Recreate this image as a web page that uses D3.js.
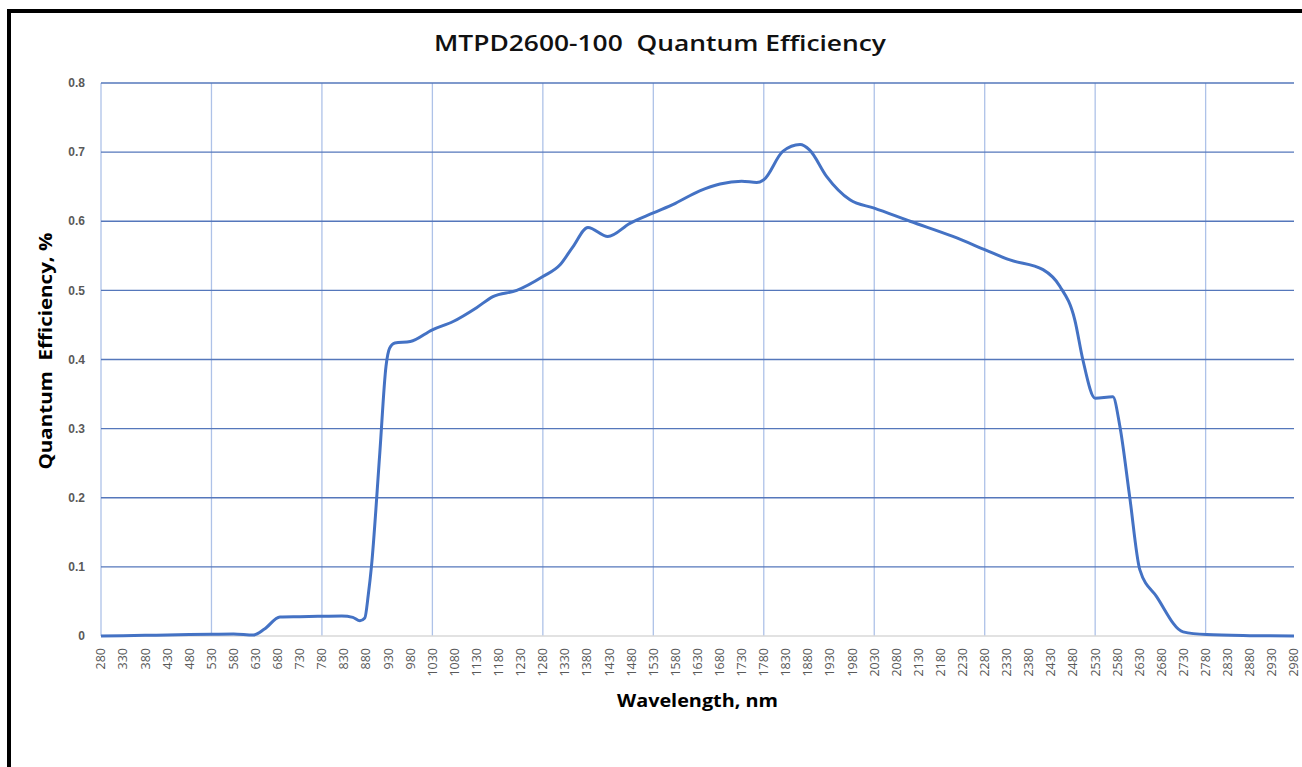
<!DOCTYPE html>
<html lang="en">

<head>
	<meta charset="utf-8">
	<title>MTPD2600-100 Quantum Efficiency</title>
	<style>
		body {
			margin: 0;
			background: #fff;
			font-family: "Open Sans", sans-serif;
		}

		svg {
			display: block;
		}

		.ylabels text {
			font-family: "Liberation Sans", Arial, sans-serif;
			font-weight: bold;
			font-size: 12px;
			fill: #595959;
		}

		.xlabels text {
			font-family: "Open Sans", sans-serif;
			font-size: 12.5px;
			fill: #595959;
		}
	</style>
</head>

<body>
	<svg></svg>

	<script src="https://cdn.jsdelivr.net/npm/d3@7/dist/d3.min.js"></script>
	<script>
		// wavelengths (nm) and quantum efficiency
		var wavelengths = [280, 330, 380, 430, 480, 530, 580, 625, 650, 685, 730, 780, 825, 850, 866, 877, 885, 892, 911, 925, 933, 945, 980,
			1030, 1077, 1130, 1167, 1221, 1280, 1319, 1348, 1382, 1427, 1477, 1530, 1580, 1635, 1681, 1730, 1764, 1780, 1823, 1862, 1884,
			1922, 1975, 2030, 2111, 2208, 2280, 2337, 2412, 2450, 2484, 2502, 2530, 2570, 2586, 2608, 2631, 2669, 2729, 2782, 2880, 2980];
		var efficiency = [0, 0.0005, 0.001, 0.0015, 0.002, 0.0025, 0.003, 0.0015, 0.01, 0.0275, 0.028, 0.0285, 0.029, 0.027, 0.022, 0.026, 0.06, 0.1, 0.265, 0.39, 0.416, 0.424, 0.426,
			0.443, 0.455, 0.475, 0.491, 0.5, 0.52, 0.537, 0.563, 0.591, 0.578, 0.597, 0.612, 0.626, 0.644, 0.654, 0.658, 0.656, 0.66, 0.701, 0.711, 0.703,
			0.665, 0.631, 0.619, 0.6, 0.578, 0.559, 0.544, 0.53, 0.506, 0.457, 0.4, 0.344, 0.346, 0.303, 0.202, 0.096, 0.057, 0.006, 0.002, 0.0005, 0];

		var xTicks = d3.range(280, 2981, 50);
		var xGrid = d3.range(280, 2981, 250);
		var yTicks = [0, 0.1, 0.2, 0.3, 0.4, 0.5, 0.6, 0.7, 0.8];

		var width = 1302,
			height = 767;

		var margin = { left: 101, right: 8, top: 83, bottom: 131 };

		var svg = d3.select("svg")
			.attr("width", width)
			.attr("height", height);

		// frame of the original screenshot (only top/left edges visible)
		svg.append("rect")
			.attr("x", 9)
			.attr("y", 11)
			.attr("width", width + 20)
			.attr("height", height + 20)
			.attr("fill", "none")
			.attr("stroke", "#000")
			.attr("stroke-width", 4);

		var x = d3.scaleLinear()
			.domain([280, 2980])
			.range([margin.left, width - margin.right]);

		var y = d3.scaleLinear()
			.domain([0, 0.8])
			.range([height - margin.bottom, margin.top]);

		// vertical gridlines
		svg.append("g")
			.selectAll("line")
			.data(xGrid)
			.enter().append("line")
			.attr("x1", function(d) { return x(d); })
			.attr("x2", function(d) { return x(d); })
			.attr("y1", y(0.8))
			.attr("y2", y(0))
			.attr("stroke", "#aec2e8")
			.attr("stroke-width", 1.3);

		// horizontal gridlines
		svg.append("g")
			.selectAll("line")
			.data(yTicks.filter(function(d) { return d > 0; }))
			.enter().append("line")
			.attr("x1", x(280))
			.attr("x2", x(2980))
			.attr("y1", function(d) { return y(d); })
			.attr("y2", function(d) { return y(d); })
			.attr("stroke", "#5577bb")
			.attr("stroke-width", 1.3);

		// category axis line
		svg.append("line")
			.attr("x1", x(280))
			.attr("x2", x(2980))
			.attr("y1", y(0))
			.attr("y2", y(0))
			.attr("stroke", "#d9d9d9")
			.attr("stroke-width", 1.3);

		// y labels
		svg.append("g")
			.attr("class", "ylabels")
			.selectAll("text")
			.data(yTicks)
			.enter().append("text")
			.attr("x", 85)
			.attr("y", function(d) { return y(d); })
			.attr("dy", "0.35em")
			.attr("text-anchor", "end")
			.text(function(d) { return d === 0 ? "0" : d3.format(".1f")(d); });

		// x labels, rotated
		svg.append("g")
			.attr("class", "xlabels")
			.selectAll("text")
			.data(xTicks)
			.enter().append("text")
			.attr("transform", function(d) {
				return "translate(" + x(d) + "," + (y(0) + 12) + ") rotate(-90)";
			})
			.attr("dy", "0.35em")
			.attr("text-anchor", "end")
			.text(function(d) { return d; });

		// the curve
		var line = d3.line()
			.x(function(d) { return x(d[0]); })
			.y(function(d) { return y(d[1]); })
			.curve(d3.curveMonotoneX);

		svg.append("path")
			.datum(d3.zip(wavelengths, efficiency))
			.attr("d", line)
			.attr("fill", "none")
			.attr("stroke", "#4472c4")
			.attr("stroke-width", 3)
			.attr("stroke-linejoin", "round");

		// titles
		svg.append("text")
			.attr("x", 660)
			.attr("y", 51)
			.attr("text-anchor", "middle")
			.attr("font-size", "21px")
			.attr("font-weight", 600)
			.attr("fill", "#111")
			.attr("textLength", 452)
			.attr("lengthAdjust", "spacingAndGlyphs")
			.attr("xml:space", "preserve")
			.text("MTPD2600-100  Quantum Efficiency");

		svg.append("text")
			.attr("x", (x(280) + x(2980)) / 2)
			.attr("y", 707)
			.attr("text-anchor", "middle")
			.attr("font-size", "18px")
			.attr("font-weight", "bold")
			.attr("fill", "#000")
			.attr("textLength", 161)
			.attr("lengthAdjust", "spacingAndGlyphs")
			.text("Wavelength, nm");

		svg.append("text")
			.attr("transform", "translate(52," + 351 + ") rotate(-90)")
			.attr("text-anchor", "middle")
			.attr("font-size", "18px")
			.attr("font-weight", "bold")
			.attr("fill", "#000")
			.attr("textLength", 237)
			.attr("lengthAdjust", "spacingAndGlyphs")
			.attr("xml:space", "preserve")
			.text("Quantum  Efficiency, %");
	</script>
</body>

</html>
